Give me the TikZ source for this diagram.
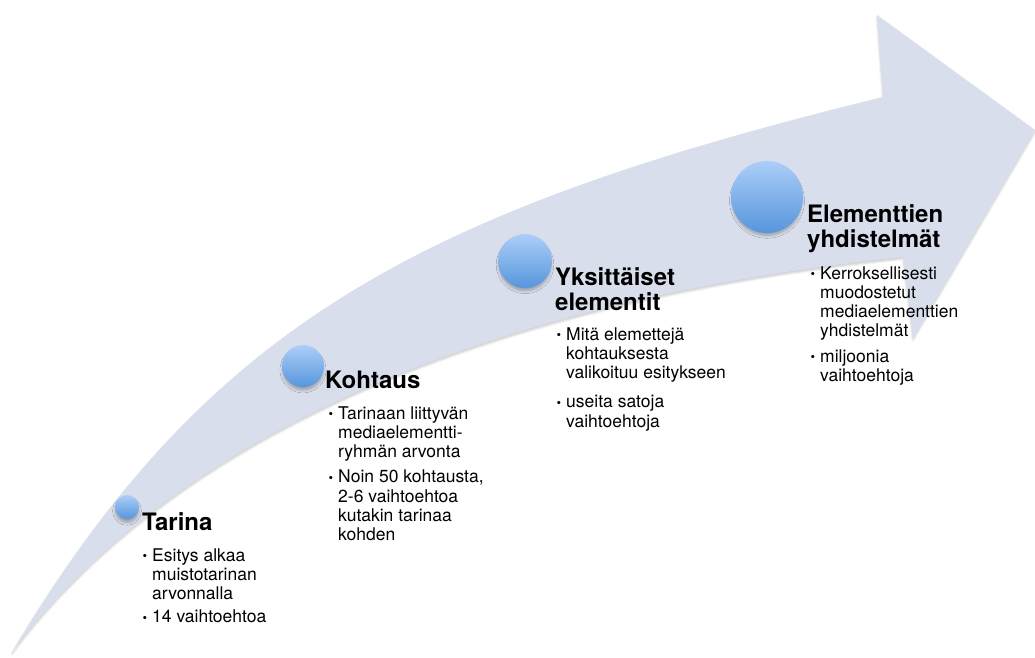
\documentclass[tikz,border=0pt]{standalone}
\usepackage{fontspec}
\setmainfont{TeX Gyre Heros}
\usetikzlibrary{shadows.blur}
\definecolor{bandgray}{RGB}{217,222,236}
\definecolor{balltop}{RGB}{172,206,248}
\definecolor{ballbot}{RGB}{86,150,220}
\newcommand{\bull}{\llap{\raisebox{0.5pt}{\fontsize{13}{13}\selectfont\textbullet}\hspace{5pt}}}
\newcommand{\lines}[1]{\begin{tabular}[t]{@{}l@{}}#1\end{tabular}}

\begin{document}
\begin{tikzpicture}
  [
  x=1pt, y=-1pt,
  ball/.style={circle, inner sep=0pt, shading=axis, top color=balltop, bottom color=ballbot,
    blur shadow={shadow xshift=0pt, shadow yshift=-4pt, shadow scale=0.96, shadow blur radius=3pt,
      shadow opacity=30, shadow blur steps=6}},
  headline/.style={anchor=base west, inner sep=0pt, font=\bfseries\fontsize{24}{25.5}\selectfont},
  itemtext/.style={anchor=base west, inner sep=0pt, font=\fontsize{17.5}{19.3}\selectfont}
  ]
  \useasboundingbox (0,0) rectangle (1035,657);

  % the big arrow
  \fill[bandgray, blur shadow={shadow xshift=0pt, shadow yshift=-2pt, shadow opacity=20, shadow blur steps=4}]
    (12,652) .. controls (207,326) and (417,211) .. (883,97)
    -- (877,15) -- (1035,130) -- (913,338) -- (903,257)
    .. controls (455,304) and (162,452) .. (12,652) -- cycle;

  \foreach \n/\x/\y/\d in {1/127/507/24, 2/303/366/42, 3/525/261/54, 4/767/197/72}
    \node[ball, minimum size=\d pt] (s\n) at (\x,\y) {};

  \node[headline] (t1) at (142,530) {Tarina};
  \node[itemtext] (d1) at (152,561) {\lines{\bull Esitys alkaa\\muistotarinan\\arvonnalla\\[4pt]\bull 14 vaihtoehtoa}};

  \node[headline] (t2) at (325,388) {Kohtaus};
  \node[itemtext] (d2) at (338,419) {\lines{\bull Tarinaan liittyvän\\mediaelementti-\\ryhmän arvonta\\[6pt]\bull Noin 50 kohtausta,\\2-6 vaihtoehtoa\\kutakin tarinaa\\kohden}};

  \node[headline] (t3) at (555,285) {\lines{Yksittäiset\\elementit}};
  \node[itemtext] (d3) at (566,340) {\lines{\bull Mitä elemettejä\\kohtauksesta\\valikoituu esitykseen\\[10pt]\bull useita satoja\\vaihtoehtoja}};

  \node[headline] (t4) at (807,222) {\lines{Elementtien\\yhdistelmät}};
  \node[itemtext] (d4) at (820,279) {\lines{\bull Kerroksellisesti\\muodostetut\\mediaelementtien\\yhdistelmät\\[6pt]\bull miljoonia\\vaihtoehtoja}};
\end{tikzpicture}
\end{document}
